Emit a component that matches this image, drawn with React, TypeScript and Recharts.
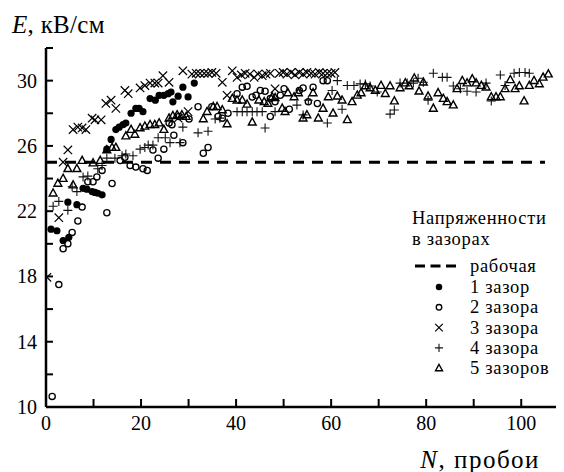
import React from 'react';
import { ScatterChart, Scatter, XAxis, YAxis, ReferenceLine, Legend } from 'recharts';

// [N, E] pairs
const gap1: [number, number][] = [
  [1.05, 20.9], [2.3, 20.8], [3.6, 20.2], [4.8, 20.4], [4.6, 22.55], [6.5, 22.4], [7.8, 23.4], [8.6, 23.35],
  [9.7, 23.2], [10.3, 23.15], [10.9, 23.1], [11.8, 23.0], [12.8, 25.8], [13.7, 26.4], [14.7, 27.0], [15.4, 27.15],
  [16.2, 27.3], [16.8, 27.4], [17.9, 28.0], [18.9, 28.3], [19.6, 28.3], [20.4, 28.1], [21.9, 28.9], [23.0, 28.8],
  [23.8, 29.1], [24.8, 29.1], [25.7, 29.2], [26.3, 29.3], [26.7, 28.7], [27.8, 29.05], [28.8, 29.6], [29.9, 29.0],
  [31.2, 29.85],
];

const gap2: [number, number][] = [
  [1.3, 10.65], [2.7, 17.5], [3.6, 19.7], [4.6, 20.0], [5.5, 20.7], [6.7, 21.4], [7.6, 22.25], [8.8, 23.8],
  [9.9, 23.8], [10.7, 24.1], [11.8, 24.5], [12.8, 21.9], [13.9, 23.7], [15.6, 25.1], [16.6, 25.3], [17.7, 24.8],
  [18.9, 24.7], [20.4, 24.6], [21.3, 24.5], [22.5, 25.75], [23.6, 25.25], [24.8, 25.8], [25.9, 27.4], [26.5, 27.3],
  [26.9, 26.65], [28.0, 27.8], [28.8, 26.2], [30.1, 27.65], [32.0, 28.4], [33.1, 25.55], [34.1, 25.9], [34.9, 28.4],
  [36.2, 27.8], [37.1, 27.7], [38.3, 28.0], [40.2, 29.2], [41.3, 29.6], [42.3, 29.65], [43.4, 29.0], [44.2, 29.1],
  [45.1, 29.4], [46.1, 29.35], [47.2, 27.8], [47.2, 28.9], [48.2, 28.7], [49.3, 29.1], [50.1, 29.5], [51.2, 28.25],
  [53.3, 29.4], [54.1, 29.55], [55.2, 28.7], [56.2, 29.6], [57.1, 28.6], [58.3, 30.0], [59.2, 30.0],
];

const gap3: [number, number][] = [
  [0.2, 17.95], [2.7, 21.6], [3.6, 25.0], [4.6, 25.75], [5.7, 27.0], [6.7, 27.15], [7.6, 27.1], [8.4, 27.0],
  [9.7, 27.7], [10.3, 27.6], [11.6, 27.6], [12.6, 28.6], [13.7, 28.8], [14.7, 28.3], [16.6, 29.4], [17.3, 29.2],
  [19.8, 29.55], [20.8, 29.7], [21.9, 29.85], [22.9, 29.85], [23.6, 29.85], [24.6, 30.3], [25.9, 29.9], [27.8, 27.7],
  [28.8, 30.6], [29.9, 28.1], [30.7, 30.4], [31.6, 30.45], [32.4, 30.45], [33.3, 30.45], [34.1, 30.45], [34.9, 30.5],
  [35.8, 30.45], [37.1, 29.9], [38.1, 29.1], [39.2, 30.6], [40.2, 30.2], [41.1, 30.35], [41.9, 30.45], [42.9, 30.4],
  [43.8, 30.2], [44.6, 30.4], [45.5, 30.3], [46.3, 30.4], [47.2, 30.45], [48.2, 29.5], [49.1, 30.45], [49.9, 30.5],
  [50.7, 30.4], [51.6, 30.5], [52.4, 30.35], [53.3, 30.5], [54.1, 30.4], [54.9, 30.5], [55.8, 30.45], [56.6, 30.4],
  [57.5, 30.5], [58.3, 30.45], [59.2, 30.45], [60.0, 30.45], [60.8, 30.5],
];

const gap4: [number, number][] = [
  [1.5, 22.3], [2.7, 22.6], [4.6, 22.05], [5.5, 23.5], [6.5, 23.2], [7.8, 24.1], [8.8, 24.15], [10.9, 24.6],
  [11.8, 24.8], [12.8, 25.25], [14.5, 25.25], [16.0, 25.4], [16.8, 25.5], [18.3, 25.4], [19.8, 25.8], [20.8, 25.9],
  [21.5, 26.05], [22.5, 26.05], [23.6, 26.5], [25.1, 26.5], [26.1, 26.2], [28.2, 26.2], [28.8, 27.15], [32.0, 26.8],
  [34.1, 26.9], [35.6, 27.65], [36.6, 27.7], [40.2, 28.1], [41.3, 28.1], [42.3, 28.1], [43.4, 28.1], [44.4, 28.1],
  [45.5, 28.1], [46.1, 27.1], [48.2, 28.1], [52.8, 28.5], [54.1, 27.9], [55.2, 28.8], [59.2, 27.4], [60.2, 29.4],
  [61.3, 30.0], [62.3, 28.25], [63.4, 29.7], [64.8, 29.7], [66.1, 29.8], [67.2, 29.8], [68.2, 29.67], [69.7, 29.3],
  [72.4, 27.95], [73.3, 28.2], [74.5, 29.85], [76.0, 29.85], [77.3, 29.85], [78.3, 30.15], [79.4, 29.9], [80.4, 28.8],
  [81.5, 30.45], [83.4, 30.2], [84.4, 30.2], [85.7, 29.67], [87.2, 29.5], [88.6, 29.35], [90.5, 29.3], [92.6, 29.85],
  [93.7, 28.75], [95.6, 30.35], [96.6, 29.7], [98.5, 30.45], [99.6, 30.5], [100.8, 30.5], [101.7, 30.45],
];

const gap5: [number, number][] = [
  [1.5, 23.1], [2.5, 23.7], [3.6, 24.0], [4.6, 24.6], [5.7, 23.6], [6.5, 24.6], [7.6, 25.1], [9.9, 24.95],
  [11.4, 25.1], [12.8, 25.75], [13.9, 25.9], [14.7, 25.9], [16.8, 26.6], [17.9, 27.0], [18.7, 26.7], [19.8, 27.1],
  [20.8, 27.2], [21.9, 27.3], [22.9, 27.3], [23.8, 27.4], [24.8, 27.0], [25.9, 27.7], [26.7, 27.85], [27.6, 27.9],
  [28.6, 27.9], [29.5, 27.8], [33.1, 27.65], [33.9, 28.1], [35.2, 28.4], [36.0, 28.4], [37.1, 28.2], [38.1, 27.35],
  [39.2, 28.9], [40.2, 28.8], [41.3, 28.8], [42.3, 28.55], [43.4, 27.45], [44.8, 28.8], [45.9, 28.7], [46.7, 28.6],
  [47.6, 29.0], [48.2, 28.95], [49.7, 28.3], [50.3, 28.1], [50.9, 29.25], [52.2, 29.0], [53.1, 29.25], [54.1, 27.7],
  [54.9, 27.9], [56.2, 29.25], [57.3, 27.7], [58.3, 28.3], [59.4, 29.0], [60.4, 28.0], [61.3, 29.05], [62.3, 28.8],
  [63.4, 27.6], [64.4, 28.7], [65.5, 29.1], [66.3, 29.25], [67.2, 29.67], [68.2, 29.55], [69.3, 29.4], [70.5, 29.7],
  [71.4, 29.2], [72.4, 29.67], [73.3, 28.75], [74.5, 29.55], [75.6, 29.85], [76.4, 29.67], [77.5, 30.15], [78.5, 29.35],
  [79.4, 29.9], [80.4, 29.05], [81.5, 28.3], [82.5, 29.25], [83.6, 28.9], [84.4, 28.7], [85.7, 28.5], [86.5, 29.5],
  [87.6, 30.0], [88.6, 29.85], [89.7, 30.1], [90.5, 29.85], [91.6, 29.7], [92.6, 29.6], [93.7, 29.0], [94.7, 29.0],
  [95.6, 29.0], [96.6, 29.5], [97.7, 30.05], [98.7, 29.5], [99.6, 29.67], [100.6, 28.75], [101.7, 29.7], [102.7, 30.0],
  [103.8, 29.8], [104.6, 30.2], [105.7, 30.4],
];

const workingLevel = 25;
const workingEnd = 105;
const xTicks = [0, 10, 20, 30, 40, 50, 60, 70, 80, 90, 100];
const yTicks = [10, 12, 14, 16, 18, 20, 22, 24, 26, 28, 30, 32];

const legendTitle = ['Напряженности', 'в зазорах'];
const legendLabels = ['рабочая', '1 зазор', '2 зазора', '3 зазора', '4 зазора', '5 зазоров'];

const FONT = "'Liberation Serif', 'DejaVu Serif', 'Times New Roman', Times, serif";
const toData = (arr: [number, number][]) => arr.map(([x, y]) => ({ x, y }));

const DotMark = ({ cx, cy, s = 1 }: any) => <circle cx={cx} cy={cy} r={3.6 * s} fill="#000" />;
const RingMark = ({ cx, cy, s = 1 }: any) => (
  <circle cx={cx} cy={cy} r={3.1 * s} fill="none" stroke="#000" strokeWidth={1.3} />
);
const XMark = ({ cx, cy, s = 1 }: any) => {
  const h = 4.2 * s;
  return (
    <path d={`M${cx - h},${cy - h}L${cx + h},${cy + h}M${cx - h},${cy + h}L${cx + h},${cy - h}`} stroke="#000" strokeWidth={1.2} fill="none" />
  );
};
const PlusMark = ({ cx, cy, s = 1 }: any) => {
  const h = 4.5 * s;
  return <path d={`M${cx - h},${cy}L${cx + h},${cy}M${cx},${cy - h}L${cx},${cy + h}`} stroke="#111" strokeWidth={1.1} fill="none" />;
};
const TriMark = ({ cx, cy, s = 1 }: any) => (
  <path d={`M${cx},${cy - 4.3 * s}L${cx - 3.9 * s},${cy + 2.8 * s}L${cx + 3.9 * s},${cy + 2.8 * s}Z`} stroke="#000" strokeWidth={1.4} fill="none" />
);

const txt = { fontFamily: FONT, fill: '#000' };

const XTick = ({ x, y, payload }: any) => (
  <g>
    <line x1={x} x2={x} y1={y} y2={y - 8} stroke="#000" strokeWidth={2} />
    {payload.value % 20 === 0 && (
      <text x={x} y={y + 23} textAnchor="middle" fontSize={20} style={txt}>
        {payload.value}
      </text>
    )}
  </g>
);

const YTick = ({ x, y, payload }: any) => (
  <g>
    <line x1={x} x2={x + 7} y1={y} y2={y} stroke="#000" strokeWidth={2} />
    {(payload.value - 10) % 4 === 0 && (
      <text x={x - 9} y={y + 7} textAnchor="end" fontSize={20} style={txt}>
        {payload.value}
      </text>
    )}
  </g>
);

const marks = [DotMark, RingMark, XMark, PlusMark, TriMark];
const LEG_FS = 18.5;
const LEG_LS = 0.7;

const LegendBox = () => (
  <svg width={160} height={175} style={{ display: 'block', overflow: 'visible' }}>
    <text x={8} y={19} fontSize={LEG_FS} letterSpacing={LEG_LS} style={txt}>{legendTitle[0]}</text>
    <text x={8} y={40} fontSize={LEG_FS} letterSpacing={LEG_LS} style={txt}>{legendTitle[1]}</text>
    <line x1={11} x2={52} y1={61} y2={61} stroke="#000" strokeWidth={3} strokeDasharray="10 5.5" />
    <text x={66} y={67} fontSize={LEG_FS} letterSpacing={LEG_LS} style={txt}>{legendLabels[0]}</text>
    {marks.map((M, i) => {
      const cy = 82 + i * 20.3;
      return (
        <g key={i}>
          <M cx={35} cy={cy} s={0.9} />
          <text x={66} y={cy + 6} fontSize={LEG_FS} letterSpacing={LEG_LS} style={txt}>{legendLabels[i + 1]}</text>
        </g>
      );
    })}
  </svg>
);

const AxisTitles = () => (
  <g>
    <text x={4} y={25} fontSize={25} letterSpacing={0.3} style={txt}>
      <tspan fontStyle="italic">E</tspan>, кВ/см
    </text>
    <text x={532} y={460} fontSize={25} letterSpacing={1.5} textAnchor="end" style={txt}>
      <tspan fontStyle="italic">N</tspan>, пробои
    </text>
  </g>
);

export default function App() {
  return (
    <ScatterChart width={556} height={464} margin={{ top: 40, right: 0, bottom: 0, left: 0 }}>
      <XAxis
        type="number"
        dataKey="x"
        domain={[0, 109]}
        ticks={xTicks}
        height={65}
        tickSize={0}
        tickMargin={0}
        tickLine={false}
        tick={<XTick />}
        axisLine={{ stroke: '#000', strokeWidth: 2.5 }}
        allowDataOverflow
        interval={0}
      />
      <YAxis
        type="number"
        dataKey="y"
        domain={[10, 32]}
        ticks={yTicks}
        width={38}
        tickSize={0}
        tickMargin={0}
        tickLine={false}
        tick={<YTick />}
        axisLine={{ stroke: '#000', strokeWidth: 2.5 }}
        allowDataOverflow
        interval={0}
        label={{ content: () => <AxisTitles /> }}
      />
      <ReferenceLine
        segment={[{ x: 0, y: workingLevel }, { x: workingEnd, y: workingLevel }]}
        stroke="#000"
        strokeWidth={3}
        strokeDasharray="11 8"
      />
      <Scatter name="1 зазор" data={toData(gap1)} shape={(p: any) => <DotMark cx={p.cx} cy={p.cy} />} isAnimationActive={false} />
      <Scatter name="2 зазора" data={toData(gap2)} shape={(p: any) => <RingMark cx={p.cx} cy={p.cy} />} isAnimationActive={false} />
      <Scatter name="3 зазора" data={toData(gap3)} shape={(p: any) => <XMark cx={p.cx} cy={p.cy} />} isAnimationActive={false} />
      <Scatter name="4 зазора" data={toData(gap4)} shape={(p: any) => <PlusMark cx={p.cx} cy={p.cy} />} isAnimationActive={false} />
      <Scatter name="5 зазоров" data={toData(gap5)} shape={(p: any) => <TriMark cx={p.cx} cy={p.cy} />} isAnimationActive={false} />
      <Legend
        layout="vertical"
        align="center"
        verticalAlign="middle"
        content={() => <LegendBox />}
        wrapperStyle={{ position: 'absolute', left: 396, top: 197, width: 160 }}
      />
    </ScatterChart>
  );
}
